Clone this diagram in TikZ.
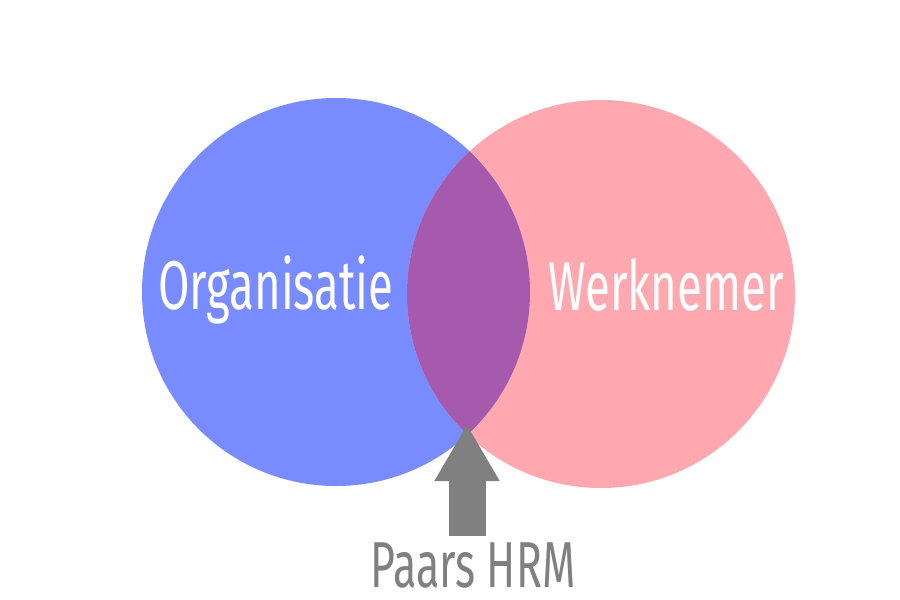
\documentclass[tikz,border=0pt]{standalone}
\usepackage{fontspec}
\usetikzlibrary{arrows.meta}
\newfontfamily\vennfont[FakeStretch=0.66]{Fira Sans}
\definecolor{orgblue}{RGB}{120,140,255}
\definecolor{wnpink}{RGB}{255,168,176}
\definecolor{hrmpurple}{RGB}{165,90,173}
\definecolor{hrmgray}{RGB}{128,128,128}

\begin{document}
\begin{tikzpicture}[x=1pt,y=-1pt]
    \tikzstyle{set}=[circle,minimum size=388pt,inner sep=0pt]
    \tikzstyle{setname}=[text=white,font=\vennfont\fontsize{69}{69}\selectfont,anchor=base,inner sep=0pt]
    \tikzstyle{pointer}=[draw=hrmgray,line width=37pt,-{Triangle[length=57pt,width=61pt]}]

    % Fix the page size.
    \useasboundingbox[fill=white] (0,0) rectangle (900,600);

    % Draw the two sets and their overlap.
    \node[set,fill=orgblue] (org) at (336,292) {};
    \node[set,fill=wnpink] (wn) at (601,294) {};
    \begin{scope}
        \clip (org.center) circle[radius=194pt];
        \fill[hrmpurple] (wn.center) circle[radius=194pt];
    \end{scope}
    \coordinate (meet) at (467,424);

    % Name the sets.
    \node[setname] (orgname) at (276,309) {Organisatie};
    \node[setname] (wnname) at (666,310) {Werknemer};

    % Point at the overlap.
    \node[setname,text=hrmgray,font=\vennfont\fontsize{65}{65}\selectfont] (hrm) at (473,587) {Paars HRM};
    \draw[pointer] ([yshift=6pt]hrm.north -| meet) -- (meet);
\end{tikzpicture}
\end{document}
